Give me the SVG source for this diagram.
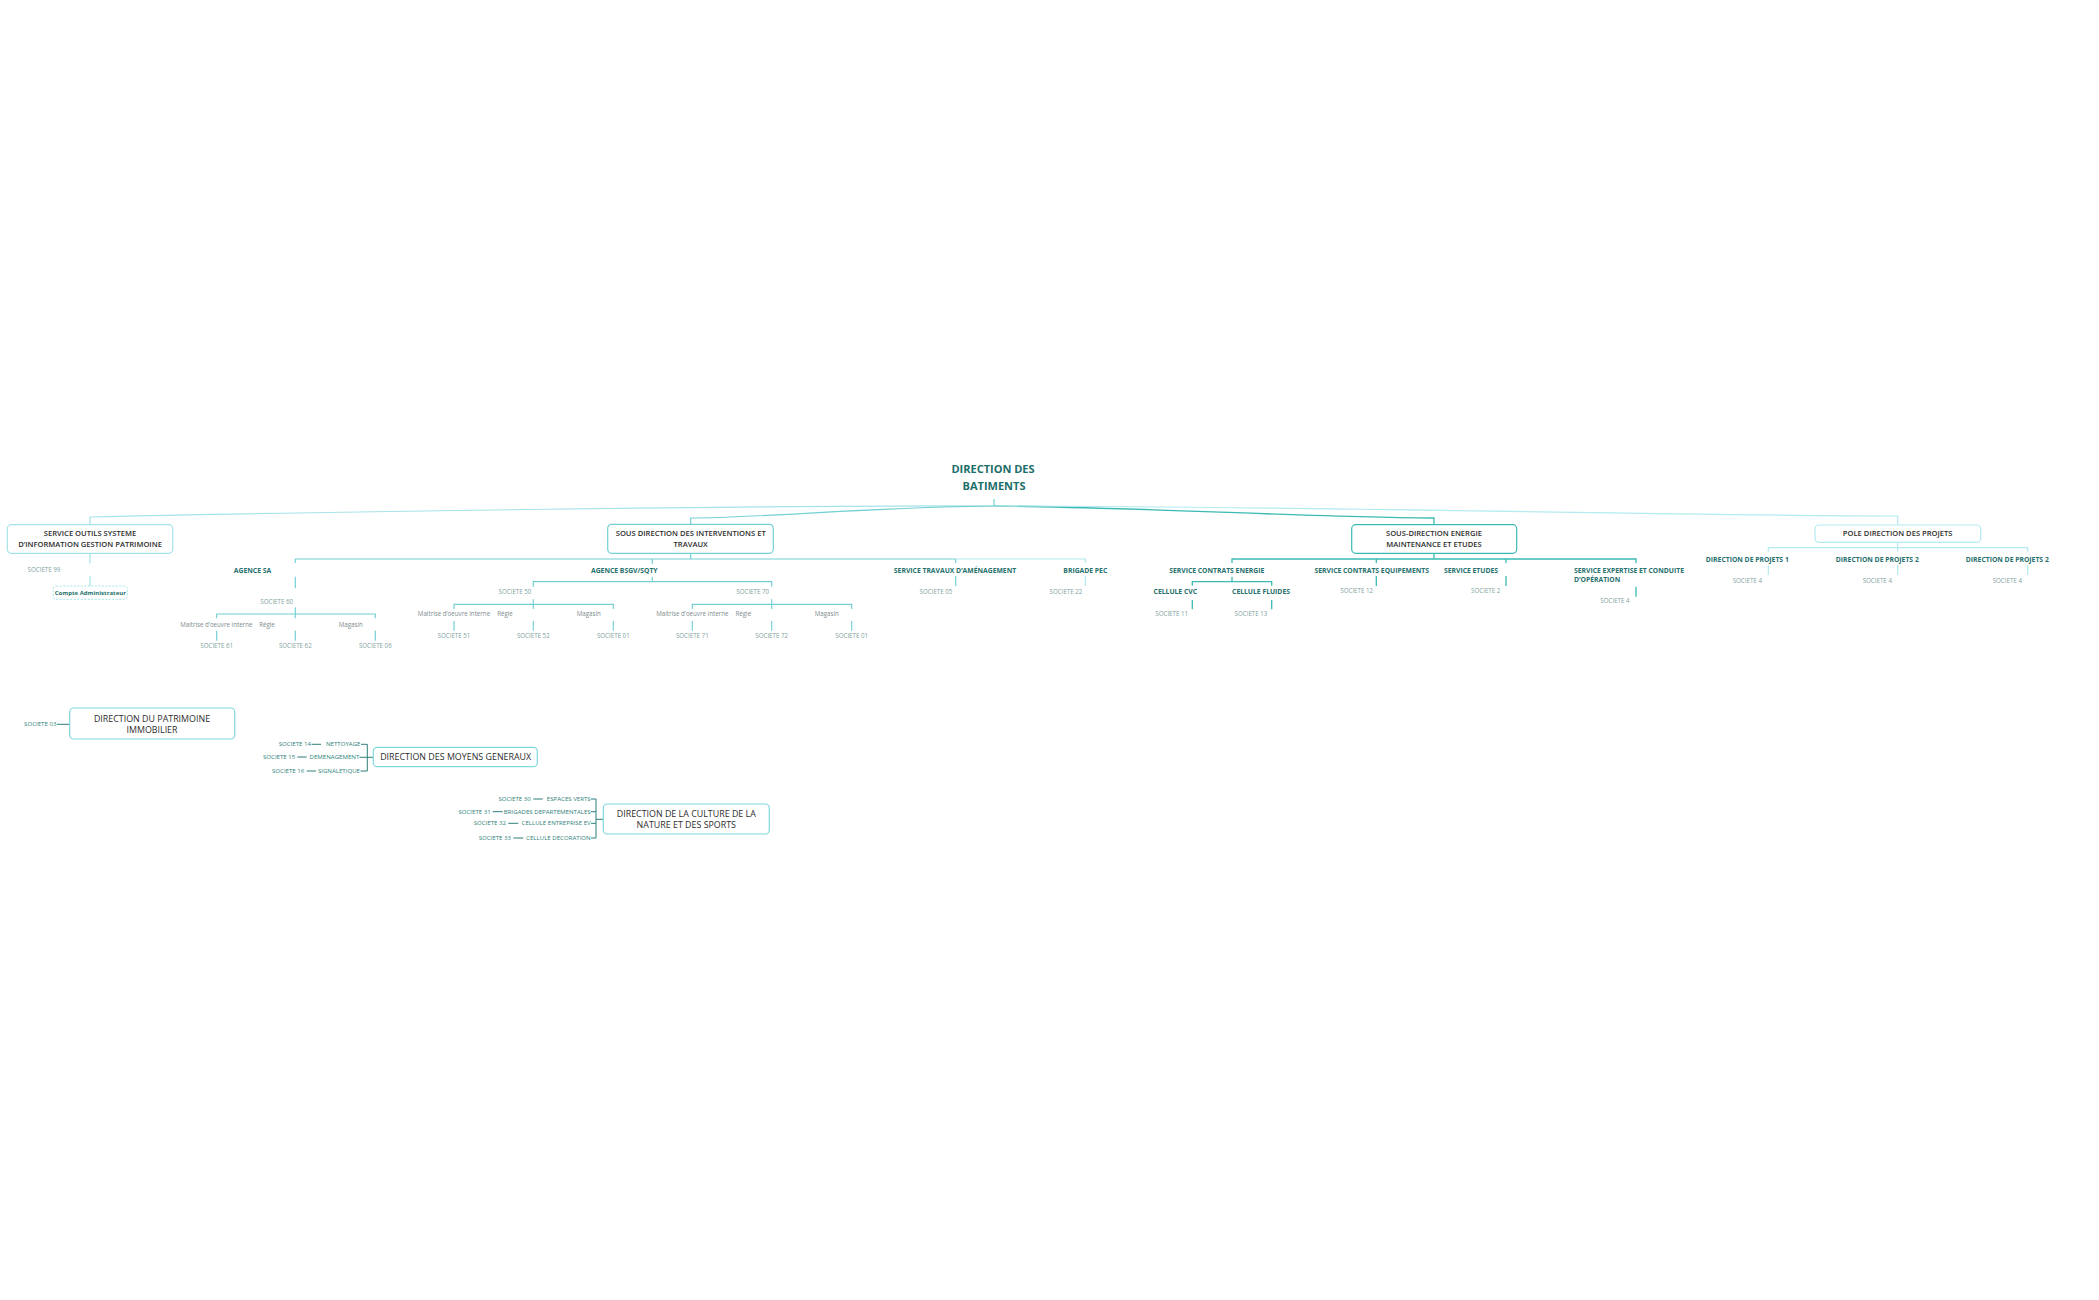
<svg xmlns="http://www.w3.org/2000/svg" width="2099" height="1300" viewBox="0 0 2099 1300">
<style>
text{font-family:"Open Sans","Liberation Sans",sans-serif}
.title{font-size:11px;font-weight:700;fill:#1c6e6a;text-anchor:middle}
.b1{font-size:7.6px;font-weight:600;fill:#2d2d2d;text-anchor:middle}
.lbl{font-size:6.8px;font-weight:700;fill:#26706d;text-anchor:middle}
.lbll{font-size:6.8px;font-weight:700;fill:#26706d}
.soc{font-size:6.2px;fill:#7f9fa0;text-anchor:middle}
.sub{font-size:6.2px;fill:#7e8b8c;text-anchor:middle}
.b2{font-size:8.9px;font-weight:500;fill:#2d2d2d;text-anchor:middle}
.br{font-size:6.1px;font-weight:500;fill:#2f7f7c;text-anchor:end}
.adm{font-size:6px;font-weight:700;fill:#26706d;text-anchor:middle}
.box{fill:#fff;stroke-width:1.2}
.c1{stroke:#a6e3e9;fill:none;stroke-width:1.2}
.c2{stroke:#74d0d3;fill:none;stroke-width:1.2}
.c2l{stroke:#b2e9ec;fill:none;stroke-width:1.2}
.c3{stroke:#3bbab4;fill:none;stroke-width:1.3}
.c4{stroke:#b3ebf0;fill:none;stroke-width:1.2}
.cb{stroke:#2d7d7a;fill:none;stroke-width:1}
</style>
<rect width="2099" height="1300" fill="#fff"/>
<g id="connectors">
  <!-- root -->
  <path class="c2" d="M994,499 V506"/>
  <path class="c1" d="M994,506 C800,505 300,512 90,517 V524.7" stroke-width="1.6"/>
  <path class="c2" d="M994,506 C870,507 760,518 690.7,518 V524.3" stroke-width="1.6"/>
  <path class="c3" d="M994,506 C1130,507 1330,518 1434,518 V524.7" stroke-width="1.8"/>
  <path class="c4" d="M994,506 C1300,506 1700,516 1897.7,516 V525" stroke-width="1.6"/>
  <!-- service outils -->
  <path class="c1" d="M90,553.3 V563.3 M90,576 V586"/>
  <!-- sous direction interventions -->
  <path class="c2" d="M690.7,553.3 V559 M295.3,563 V559 H955.7 M652.3,559 V564 M955.7,559 V563"/>
  <path class="c2l" d="M955.7,559 H1085.3 V563"/>
  <!-- agence SA -->
  <path class="c2" d="M295.3,576.7 V588.3 M295.3,607.3 V618.3 M216.7,618.3 V614 H375.3 V618.3 M216.7,630.7 V640.7 M295.3,630.7 V640.7 M375.3,630.7 V640.7"/>
  <!-- agence BSGV -->
  <path class="c2" d="M652.3,576.7 V581.7 M533.3,586.7 V581.7 H771.7 V586.7 M533.3,599.3 V609 M454,609 V604.3 H613.3 V609 M771.7,599.3 V609 M692.3,609 V604.3 H851.7 V609 M454,621 V630.7 M533.3,621 V630.7 M613.3,621 V630.7 M692.3,621 V630.7 M771.7,621 V630.7 M851.7,621 V630.7"/>
  <!-- travaux / brigade -->
  <path class="c2" d="M955.7,576 V586"/>
  <path class="c2l" d="M1085.3,576 V586"/>
  <!-- energie -->
  <path class="c3" d="M1434,553.3 V559" stroke-width="1.8"/>
  <path class="c3" d="M1232,563 V559 H1636 V563 M1376.3,559 V563 M1506,559 V563"/>
  <path class="c3" d="M1232,576.7 V581.7 M1192.3,585.7 V581.7 H1271.7 V585.7 M1192.3,600 V609.3 M1271.7,600 V609.3 M1376.3,576 V586 M1506,576 V586 M1636,586.7 V596.7"/>
  <!-- pole -->
  <path class="c4" d="M1897.7,542.3 V551.7 M1768.3,551.7 V547.7 H2027.7 V551.7 M1768.3,565 V575 M1897.7,565 V575 M2027.7,565 V575"/>
  <!-- bottom -->
  <path class="cb" d="M57,724.3 H69.7"/>
  <path class="cb" d="M361,744.3 H367.3 V771 H360.5 M359.5,757.3 H367.3 M367.3,757.3 H373.3 M311.7,744.3 H321 M297.3,757 H306.7 M306.7,771 H316"/>
  <path class="cb" d="M591,799 H596 V838 H591 M591,811.7 H596 M591,823.3 H596 M596,819.3 H603.3 M533.3,799 H542.7 M492.7,811.7 H502.7 M508.3,823.3 H518.3 M513.3,838 H523.3"/>
</g>
<g id="root">
  <text class="title" x="993" y="473.3">DIRECTION DES</text>
  <text class="title" x="994" y="490">BATIMENTS</text>
</g>
<g id="service-outils">
  <rect class="box" x="7.3" y="524.7" width="165.4" height="28.6" rx="4" stroke="#a6e3e9"/>
  <text class="b1" x="90" y="536">SERVICE OUTILS SYSTEME</text>
  <text class="b1" x="90" y="546.7">D’INFORMATION GESTION PATRIMOINE</text>
</g>
<g id="societe-99"><text class="soc" x="44" y="571.7">SOCIETE 99</text></g>
<g id="compte-admin">
  <rect x="53.3" y="586" width="74" height="13.3" rx="3" fill="#fff" stroke="#a6e3e9" stroke-width="1" stroke-dasharray="2,1.5"/>
  <text class="adm" x="90.3" y="594.8">Compte Administrateur</text>
</g>
<g id="sous-direction-interventions">
  <rect class="box" x="607.7" y="524.3" width="165.6" height="29" rx="4" stroke="#74d0d3"/>
  <text class="b1" x="690.7" y="536">SOUS DIRECTION DES INTERVENTIONS ET</text>
  <text class="b1" x="690.7" y="546.7">TRAVAUX</text>
</g>
<g id="agence-sa">
  <text class="lbl" x="252.5" y="572.7">AGENCE SA</text>
  <text class="soc" x="276.7" y="604.3">SOCIETE 60</text>
  <text class="sub" x="216.3" y="626.7">Maitrise d’oeuvre interne</text>
  <text class="sub" x="267" y="626.7">Régie</text>
  <text class="sub" x="350.7" y="626.7">Magasin</text>
  <text class="soc" x="216.7" y="648.3">SOCIETE 61</text>
  <text class="soc" x="295.3" y="648.3">SOCIETE 62</text>
  <text class="soc" x="375.3" y="648.3">SOCIETE 06</text>
</g>
<g id="agence-bsgv">
  <text class="lbl" x="624.3" y="572.7">AGENCE BSGV/SQTY</text>
  <text class="soc" x="515" y="594">SOCIETE 50</text>
  <text class="soc" x="752.7" y="594">SOCIETE 70</text>
  <text class="sub" x="454" y="616">Maitrise d’oeuvre interne</text>
  <text class="sub" x="505" y="616">Régie</text>
  <text class="sub" x="588.7" y="616">Magasin</text>
  <text class="sub" x="692.3" y="616">Maitrise d’oeuvre interne</text>
  <text class="sub" x="743.3" y="616">Régie</text>
  <text class="sub" x="826.7" y="616">Magasin</text>
  <text class="soc" x="454" y="638.3">SOCIETE 51</text>
  <text class="soc" x="533.3" y="638.3">SOCIETE 52</text>
  <text class="soc" x="613.3" y="638.3">SOCIETE 01</text>
  <text class="soc" x="692.3" y="638.3">SOCIETE 71</text>
  <text class="soc" x="771.7" y="638.3">SOCIETE 72</text>
  <text class="soc" x="851.7" y="638.3">SOCIETE 01</text>
</g>
<g id="service-travaux">
  <text class="lbl" x="955" y="572.7">SERVICE TRAVAUX D’AMÉNAGEMENT</text>
  <text class="soc" x="936" y="594">SOCIETE 05</text>
</g>
<g id="brigade-pec">
  <text class="lbl" x="1085.3" y="572.7">BRIGADE PEC</text>
  <text class="soc" x="1066" y="594">SOCIETE 22</text>
</g>
<g id="sous-direction-energie">
  <rect class="box" x="1351.7" y="524.7" width="165" height="28.6" rx="4" stroke="#3bbab4"/>
  <text class="b1" x="1434" y="536">SOUS-DIRECTION ENERGIE</text>
  <text class="b1" x="1434" y="546.7">MAINTENANCE ET ETUDES</text>
</g>
<g id="service-contrats-energie">
  <text class="lbl" x="1216.7" y="572.7">SERVICE CONTRATS ENERGIE</text>
  <text class="lbl" x="1175.3" y="594">CELLULE CVC</text>
  <text class="lbl" x="1261" y="594">CELLULE FLUIDES</text>
  <text class="soc" x="1171.7" y="616">SOCIETE 11</text>
  <text class="soc" x="1251" y="616">SOCIETE 13</text>
</g>
<g id="service-contrats-equipements">
  <text class="lbl" x="1371.7" y="572.7">SERVICE CONTRATS EQUIPEMENTS</text>
  <text class="soc" x="1356.7" y="592.7">SOCIETE 12</text>
</g>
<g id="service-etudes">
  <text class="lbl" x="1471" y="572.7">SERVICE ETUDES</text>
  <text class="soc" x="1485.7" y="592.7">SOCIETE 2</text>
</g>
<g id="service-expertise">
  <text class="lbll" x="1574" y="572.7">SERVICE EXPERTISE ET CONDUITE</text>
  <text class="lbll" x="1574" y="581.7">D’OPÉRATION</text>
  <text class="soc" x="1615" y="602.7">SOCIETE 4</text>
</g>
<g id="pole-direction-projets">
  <rect class="box" x="1815" y="525" width="165.7" height="17.3" rx="4" stroke="#b3ebf0"/>
  <text class="b1" x="1897.7" y="536.3">POLE DIRECTION DES PROJETS</text>
</g>
<g id="direction-projets">
  <text class="lbl" x="1747.3" y="561.7">DIRECTION DE PROJETS 1</text>
  <text class="lbl" x="1877.3" y="561.7">DIRECTION DE PROJETS 2</text>
  <text class="lbl" x="2007.3" y="561.7">DIRECTION DE PROJETS 2</text>
  <text class="soc" x="1747.3" y="582.7">SOCIETE 4</text>
  <text class="soc" x="1877.3" y="582.7">SOCIETE 4</text>
  <text class="soc" x="2007.3" y="582.7">SOCIETE 4</text>
</g>
<g id="direction-patrimoine">
  <rect class="box" x="69.7" y="708" width="165" height="31" rx="4" stroke="#7fd8dc"/>
  <text class="b2" x="152" y="722">DIRECTION DU PATRIMOINE</text>
  <text class="b2" x="152" y="733">IMMOBILIER</text>
  <text class="br" x="56.4" y="726.3">SOCIETE 03</text>
</g>
<g id="direction-moyens-generaux">
  <rect class="box" x="373.3" y="747.3" width="164" height="19.4" rx="4" stroke="#7fd8dc"/>
  <text class="b2" x="455.7" y="760.2">DIRECTION DES MOYENS GENERAUX</text>
  <text class="br" x="360.5" y="746.4">NETTOYAGE</text>
  <text class="br" x="359.3" y="759.1">DEMENAGEMENT</text>
  <text class="br" x="360" y="773.1">SIGNALETIQUE</text>
  <text class="br" x="311" y="746.4">SOCIETE 14</text>
  <text class="br" x="295.3" y="759.1">SOCIETE 15</text>
  <text class="br" x="304.3" y="773.1">SOCIETE 16</text>
</g>
<g id="direction-culture">
  <rect class="box" x="603.3" y="804" width="166" height="30" rx="4" stroke="#7fd8dc"/>
  <text class="b2" x="686.3" y="816.7">DIRECTION DE LA CULTURE DE LA</text>
  <text class="b2" x="686.3" y="827.7">NATURE ET DES SPORTS</text>
  <text class="br" x="590.7" y="801.1">ESPACES VERTS</text>
  <text class="br" x="590.7" y="813.8">BRIGADES DEPARTEMENTALES</text>
  <text class="br" x="590.7" y="825.4">CELLULE ENTREPRISE EV</text>
  <text class="br" x="590.7" y="840.1">CELLULE DECORATION</text>
  <text class="br" x="530.7" y="801.1">SOCIETE 30</text>
  <text class="br" x="490.7" y="813.8">SOCIETE 31</text>
  <text class="br" x="506" y="825.4">SOCIETE 32</text>
  <text class="br" x="511" y="840.1">SOCIETE 33</text>
</g>
</svg>
